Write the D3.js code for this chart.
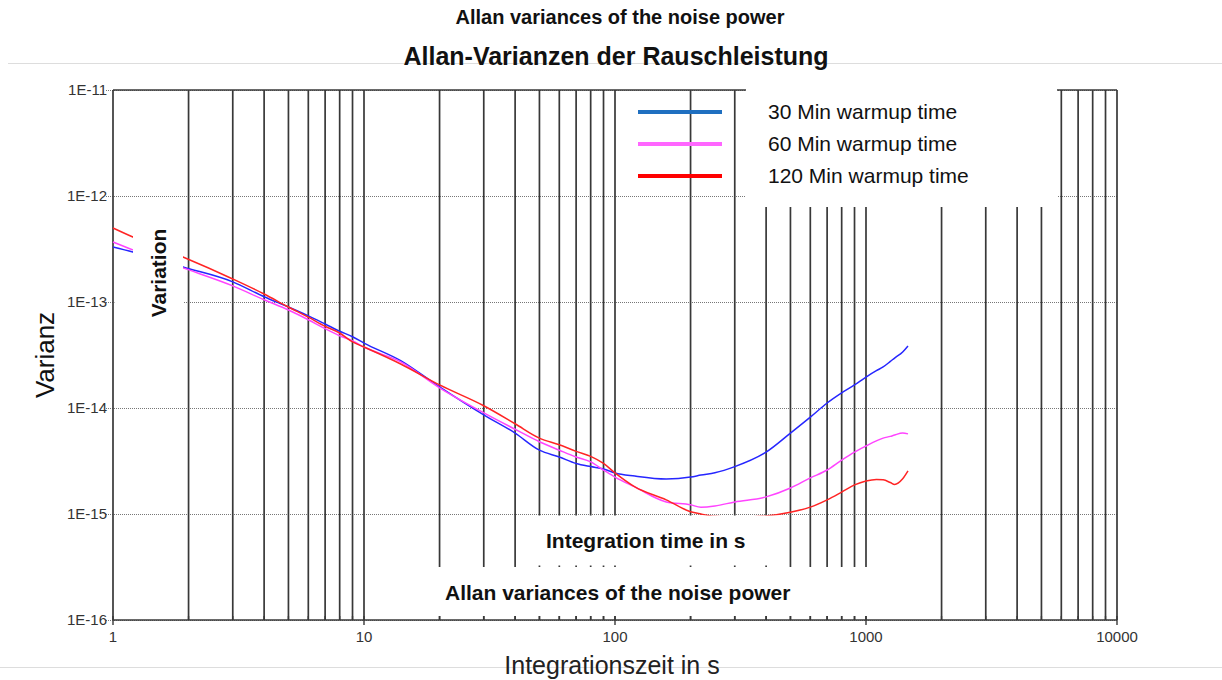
<!DOCTYPE html>
<html>
<head>
<meta charset="utf-8">
<script src="https://cdn.jsdelivr.net/npm/d3@7"></script>
<style>
  body { margin: 0; background: #fff; }
  svg { display: block; font-family: "Liberation Sans", Arial, sans-serif; }
</style>
</head>
<body>
<svg id="chart" width="1222" height="680"></svg>
<script>
/** DATA **/
var times = [1, 1.2, 1.9, 3, 4, 5, 6, 7, 8, 9,
  10, 14, 20, 30, 40, 50, 60, 70, 80, 90,
  100, 120, 160, 200, 220, 250, 300, 400, 500, 600,
  700, 800, 900, 1000, 1100, 1170, 1250, 1300, 1400, 1470];

var warmup30 = [3.3e-13, 2.96e-13, 2.14e-13, 1.55e-13, 1.12e-13, 8.97e-14, 7.4e-14, 6.2e-14, 5.3e-14, 4.7e-14,
  4.1e-14, 2.8e-14, 1.58e-14, 8.6e-15, 5.8e-15, 4.0e-15, 3.45e-15, 3.0e-15, 2.8e-15, 2.66e-15,
  2.44e-15, 2.28e-15, 2.14e-15, 2.23e-15, 2.33e-15, 2.45e-15, 2.8e-15, 3.84e-15, 5.8e-15, 8.2e-15,
  1.115e-14, 1.39e-14, 1.65e-14, 1.96e-14, 2.25e-14, 2.44e-14, 2.75e-14, 2.96e-14, 3.38e-14, 3.85e-14];

var warmup60 = [3.68e-13, 3.1e-13, 2.1e-13, 1.42e-13, 1.05e-13, 8.4e-14, 6.8e-14, 5.6e-14, 4.8e-14, 4.3e-14,
  3.76e-14, 2.72e-14, 1.55e-14, 9.0e-15, 6.3e-15, 4.8e-15, 4.0e-15, 3.45e-15, 3.1e-15, 2.6e-15,
  2.23e-15, 1.8e-15, 1.3e-15, 1.22e-15, 1.16e-15, 1.19e-15, 1.3e-15, 1.45e-15, 1.76e-15, 2.19e-15,
  2.6e-15, 3.23e-15, 3.84e-15, 4.38e-15, 4.9e-15, 5.2e-15, 5.4e-15, 5.56e-15, 5.8e-15, 5.7e-15];

var warmup120 = [4.99e-13, 4.1e-13, 2.66e-13, 1.65e-13, 1.19e-13, 8.97e-14, 7.2e-14, 5.9e-14, 5.1e-14, 4.2e-14,
  3.76e-14, 2.6e-14, 1.65e-14, 1.05e-14, 7.1e-15, 5.2e-15, 4.5e-15, 3.9e-15, 3.5e-15, 3.0e-15,
  2.44e-15, 1.8e-15, 1.36e-15, 1.05e-15, 1.0e-15, 9.5e-16, 9.3e-16, 9.6e-16, 1.04e-15, 1.16e-15,
  1.36e-15, 1.61e-15, 1.88e-15, 2.05e-15, 2.12e-15, 2.1e-15, 1.98e-15, 1.9e-15, 2.15e-15, 2.55e-15];

var seriesNames = ["30 Min warmup time", "60 Min warmup time", "120 Min warmup time"];
var lineColors = ["#2626ff", "#ff44ff", "#ff2424"];
var legendColors = ["#1f6fc0", "#ff66ff", "#ff0000"];

var xTickValues = [1, 10, 100, 1000, 10000];
var xTickLabels = ["1", "10", "100", "1000", "10000"];
var yTickValues = [1e-16, 1e-15, 1e-14, 1e-13, 1e-12, 1e-11];
var yTickLabels = ["1E-16", "1E-15", "1E-14", "1E-13", "1E-12", "1E-11"];

/** LAYOUT **/
var plotLeft = 113, plotRight = 1117, plotTop = 90, plotBottom = 620;
var gridColor = "#383838";
var textColor = "#111";

var svg = d3.select("#chart");

var x = d3.scaleLog().domain([1, 10000]).range([plotLeft, plotRight]);
var y = d3.scaleLog().domain([1e-16, 1e-11]).range([plotBottom, plotTop]);

// every 1..9 step of each decade gets a vertical line
var minorX = x.ticks(40);

/* thin separator lines of the page */
svg.append("line")
  .attr("x1", 8).attr("x2", 1222).attr("y1", 63.5).attr("y2", 63.5)
  .style("stroke", "#dddddd").style("stroke-width", 1);
svg.append("line")
  .attr("x1", 0).attr("x2", 1222).attr("y1", 667.5).attr("y2", 667.5)
  .style("stroke", "#dddddd").style("stroke-width", 1);

/* horizontal dotted grid, also used as the y ticks */
svg.selectAll(".hgrid")
  .data(yTickValues)
  .enter()
  .append("line")
    .attr("class", "hgrid")
    .attr("x1", plotLeft - 7)
    .attr("x2", plotRight)
    .attr("y1", function(d) {return Math.round(y(d)) + 0.5;})
    .attr("y2", function(d) {return Math.round(y(d)) + 0.5;})
    .style("stroke", "#777")
    .style("stroke-width", 1)
    .style("stroke-dasharray", "1,1");

/* vertical grid */
svg.selectAll(".vgrid")
  .data(minorX)
  .enter()
  .append("line")
    .attr("class", "vgrid")
    .attr("x1", function(d) {return x(d);})
    .attr("x2", function(d) {return x(d);})
    .attr("y1", plotTop)
    .attr("y2", plotBottom)
    .style("stroke", gridColor)
    .style("stroke-width", 1.7);

/* frame */
svg.append("line")
  .attr("x1", plotLeft).attr("x2", plotRight).attr("y1", plotTop).attr("y2", plotTop)
  .style("stroke", gridColor).style("stroke-width", 1.7);

/* curves */
var line = d3.line()
  .x(function(d) {return x(d[0]);})
  .y(function(d) {return y(d[1]);})
  .curve(d3.curveMonotoneX);

[warmup30, warmup60, warmup120].forEach(function(values, i) {
  svg.append("path")
    .datum(times.map(function(t, j) {return [t, values[j]];}))
    .attr("d", line)
    .style("fill", "none")
    .style("stroke", lineColors[i])
    .style("stroke-width", 1.5);
});

/* white boxes that were pasted over the original chart */
var boxes = [
  [133, 205, 50, 140],   // Variation
  [114.5, 258, 19, 87],
  [746, 86, 311, 121],   // legend
  [527, 515.5, 260, 50], // Integration time in s
  [425, 567, 514, 49]    // Allan variances ...
];
svg.selectAll(".cover")
  .data(boxes)
  .enter()
  .append("rect")
    .attr("class", "cover")
    .attr("x", function(d) {return d[0];})
    .attr("y", function(d) {return d[1];})
    .attr("width", function(d) {return d[2];})
    .attr("height", function(d) {return d[3];})
    .style("fill", "#ffffff");

/* x axis ticks, drawn after the boxes so they stay visible */
svg.selectAll(".xminor")
  .data(minorX)
  .enter()
  .append("line")
    .attr("class", "xminor")
    .attr("x1", function(d) {return x(d);})
    .attr("x2", function(d) {return x(d);})
    .attr("y1", plotBottom - 4)
    .attr("y2", function(d) {return xTickValues.indexOf(d) >= 0 ? plotBottom + 5 : plotBottom;})
    .style("stroke", gridColor)
    .style("stroke-width", 1.4);
svg.append("line")
  .attr("x1", plotLeft).attr("x2", plotRight).attr("y1", plotBottom).attr("y2", plotBottom)
  .style("stroke", gridColor).style("stroke-width", 1.7);

svg.selectAll(".xlabel")
  .data(xTickValues)
  .enter()
  .append("text")
    .attr("class", "xlabel")
    .text(function(d, i) {return xTickLabels[i];})
    .attr("x", function(d) {return x(d);})
    .attr("y", 642)
    .style("text-anchor", "middle")
    .style("font-size", "15px")
    .style("fill", "#333");

svg.selectAll(".ylabel")
  .data(yTickValues)
  .enter()
  .append("text")
    .attr("class", "ylabel")
    .text(function(d, i) {return yTickLabels[i];})
    .attr("x", 107)
    .attr("y", function(d) {return y(d) + 5;})
    .style("text-anchor", "end")
    .style("font-size", "15px")
    .style("fill", "#333");

/* legend */
seriesNames.forEach(function(name, i) {
  var ly = 112 + i * 32;
  svg.append("line")
    .attr("x1", 638).attr("x2", 722).attr("y1", ly).attr("y2", ly)
    .style("stroke", legendColors[i])
    .style("stroke-width", 4);
  svg.append("text")
    .text(name)
    .attr("x", 768)
    .attr("y", ly + 7)
    .style("font-size", "21px")
    .style("fill", textColor);
});

/* titles and labels */
svg.append("text")
  .text("Allan variances of the noise power")
  .attr("x", 620).attr("y", 24)
  .style("text-anchor", "middle")
  .style("font-weight", "bold")
  .style("font-size", "20px")
  .style("fill", textColor);

svg.append("text")
  .text("Allan-Varianzen der Rauschleistung")
  .attr("x", 616).attr("y", 65)
  .style("text-anchor", "middle")
  .style("font-weight", "bold")
  .style("font-size", "25px")
  .style("fill", textColor);

svg.append("text")
  .text("Variation")
  .attr("transform", "translate(166, 273) rotate(-90)")
  .style("text-anchor", "middle")
  .style("font-weight", "bold")
  .style("font-size", "21px")
  .style("fill", textColor);

svg.append("text")
  .text("Varianz")
  .attr("transform", "translate(54, 355) rotate(-90)")
  .style("text-anchor", "middle")
  .style("font-size", "26px")
  .style("fill", textColor);

svg.append("text")
  .text("Integration time in s")
  .attr("x", 546).attr("y", 548)
  .style("font-weight", "bold")
  .style("font-size", "21px")
  .style("fill", textColor);

svg.append("text")
  .text("Allan variances of the noise power")
  .attr("x", 445).attr("y", 600)
  .style("font-weight", "bold")
  .style("font-size", "21px")
  .style("fill", textColor);

svg.append("text")
  .text("Integrationszeit in s")
  .attr("x", 612).attr("y", 674)
  .style("text-anchor", "middle")
  .style("font-size", "25px")
  .style("fill", "#222");
</script>
</body>
</html>
